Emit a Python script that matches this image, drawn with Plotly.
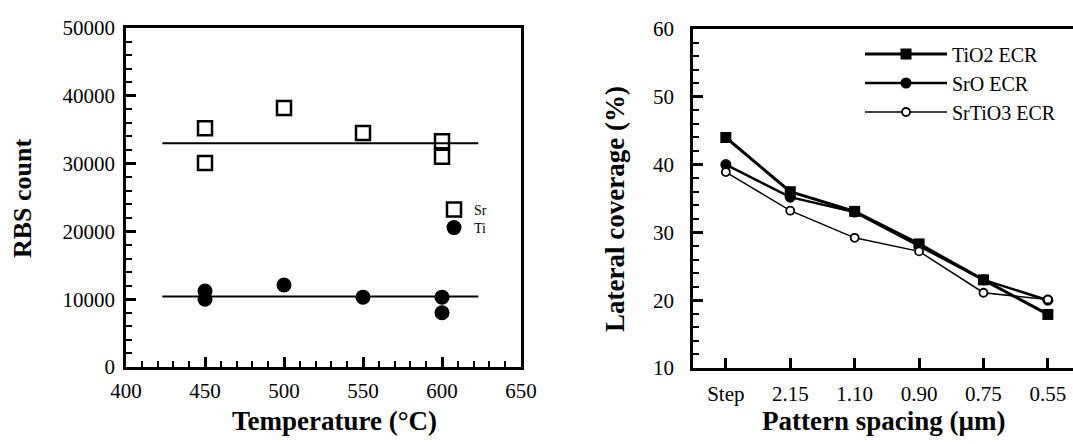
import plotly.graph_objects as go

# ---------------- data ----------------
# Left panel: RBS counts vs temperature
sr_temp = [450, 450, 500, 550, 600, 600]
sr_count = [35200, 30100, 38200, 34500, 33300, 31000]
ti_temp = [450, 450, 500, 550, 600, 600]
ti_count = [11200, 10000, 12100, 10300, 10300, 8000]
fit_temp = [423, 623]
sr_fit = [33000, 33000]
ti_fit = [10400, 10400]
rbs_ticks = [0, 10000, 20000, 30000, 40000, 50000]
temp_ticks = [400, 450, 500, 550, 600, 650]

# Right panel: lateral coverage vs pattern spacing
spacing = ["Step", "2.15", "1.10", "0.90", "0.75", "0.55"]
tio2 = [44.0, 36.0, 33.1, 28.3, 23.0, 17.9]
sro = [40.0, 35.2, 33.0, 28.0, 23.0, 20.0]
srtio3 = [38.9, 33.2, 29.2, 27.2, 21.1, 20.1]
cov_ticks = [10, 20, 30, 40, 50, 60]

FONT = "Liberation Serif"
W, H = 1073, 444

def px(x):
    return x / W

def py(y):
    return 1 - y / H

fig = go.Figure()

# ---- left panel ----
fig.add_trace(go.Scatter(x=fit_temp, y=sr_fit, mode="lines", xaxis="x", yaxis="y",
                         line=dict(color="black", width=2), showlegend=False))
fig.add_trace(go.Scatter(x=fit_temp, y=ti_fit, mode="lines", xaxis="x", yaxis="y",
                         line=dict(color="black", width=2), showlegend=False))
fig.add_trace(go.Scatter(x=sr_temp, y=sr_count, mode="markers", name="Sr", xaxis="x", yaxis="y",
                         marker=dict(symbol="square-open", size=14, color="black",
                                     line=dict(width=2.5, color="black")),
                         legend="legend"))
fig.add_trace(go.Scatter(x=ti_temp, y=ti_count, mode="markers", name="Ti", xaxis="x", yaxis="y",
                         marker=dict(symbol="circle", size=15, color="black"),
                         legend="legend2"))

# ---- right panel ----
fig.add_trace(go.Scatter(x=spacing, y=tio2, mode="lines+markers", name="TiO2 ECR",
                         xaxis="x2", yaxis="y2",
                         line=dict(color="black", width=3),
                         marker=dict(symbol="square", size=11, color="black"),
                         legend="legend3"))
fig.add_trace(go.Scatter(x=spacing, y=sro, mode="lines+markers", name="SrO ECR",
                         xaxis="x2", yaxis="y2",
                         line=dict(color="black", width=2.5),
                         marker=dict(symbol="circle", size=11, color="black"),
                         legend="legend3"))
fig.add_trace(go.Scatter(x=spacing, y=srtio3, mode="lines+markers", name="SrTiO3 ECR",
                         xaxis="x2", yaxis="y2",
                         line=dict(color="black", width=1.5),
                         marker=dict(symbol="circle", size=8, color="white",
                                     line=dict(width=1.8, color="black")),
                         legend="legend3"))

tickfont = dict(family=FONT, size=21, color="black")

common = dict(ticks="inside", ticklen=10, tickwidth=2.5, tickcolor="black",
              showline=True, linewidth=2.5, linecolor="black",
              showgrid=False, zeroline=False, tickfont=tickfont, automargin=False)
minor_common = dict(ticks="inside", ticklen=6, tickwidth=2, tickcolor="black", showgrid=False)

fig.update_layout(
    width=W, height=H,
    margin=dict(l=0, r=0, t=0, b=0, autoexpand=False),
    paper_bgcolor="white", plot_bgcolor="white",
    font=dict(family=FONT, color="black"),
    xaxis=dict(domain=[px(126), px(521)], range=[400, 650], anchor="y",
               tickvals=temp_ticks, tickformat="d", mirror=True,
               minor=dict(dtick=10, **minor_common),
               ticklabelstandoff=3, **common),
    yaxis=dict(domain=[py(367), py(28)], range=[0, 50000], anchor="x",
               tickvals=rbs_ticks, tickformat="d", mirror=True,
               minor=dict(dtick=2000, **minor_common),
               ticklabelstandoff=4, **common),
    xaxis2=dict(domain=[px(693), 1.0], range=[-0.51, 5.39], anchor="y2",
                type="category", mirror=True, ticklabelstandoff=5, **common),
    yaxis2=dict(domain=[py(368), py(29)], range=[10, 60], anchor="x2",
                tickvals=cov_ticks, mirror=False,
                minor=dict(dtick=2, **minor_common),
                ticklabelstandoff=12, **common),
    legend=dict(x=px(434), y=py(210), xanchor="left", yanchor="middle",
                bgcolor="rgba(0,0,0,0)", font=dict(family=FONT, size=14, color="black"),
                itemwidth=30, tracegroupgap=0),
    legend2=dict(x=px(434), y=py(228), xanchor="left", yanchor="middle",
                 bgcolor="rgba(0,0,0,0)", font=dict(family=FONT, size=14, color="black"),
                 itemwidth=30, tracegroupgap=0),
    legend3=dict(x=px(860), y=py(83), xanchor="left", yanchor="middle",
                 bgcolor="rgba(0,0,0,0)", font=dict(family=FONT, size=20, color="black"),
                 itemwidth=82, tracegroupgap=0),
    annotations=[
        dict(text="<b>RBS count</b>", x=px(22), y=py(198), xref="paper", yref="paper",
             xanchor="center", yanchor="middle",
             textangle=-90, showarrow=False, font=dict(family=FONT, size=26, color="black")),
        dict(text="<b>Temperature (°C)</b>", x=px(334), y=py(421), xref="paper", yref="paper",
             xanchor="center", yanchor="middle",
             showarrow=False, font=dict(family=FONT, size=27, color="black")),
        dict(text="<b>Lateral coverage (%)</b>", x=px(615), y=py(209), xref="paper", yref="paper",
             xanchor="center", yanchor="middle",
             textangle=-90, showarrow=False, font=dict(family=FONT, size=27, color="black")),
        dict(text="<b>Pattern spacing (µm)</b>", x=px(884), y=py(421), xref="paper", yref="paper",
             xanchor="center", yanchor="middle",
             showarrow=False, font=dict(family=FONT, size=27, color="black")),
    ],
)

fig.write_html("out.html")
